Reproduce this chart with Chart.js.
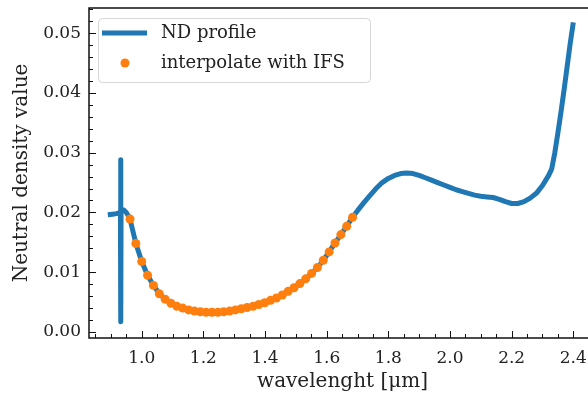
<!DOCTYPE html>
<html>
<head>
<meta charset="utf-8">
<script src="https://cdn.jsdelivr.net/npm/chart.js@4.4.0/dist/chart.umd.min.js"></script>
<style>
  html, body { margin: 0; padding: 0; background: #fff; overflow: hidden; }
  #wrap { width: 588px; height: 394px; overflow: hidden; }
</style>
</head>
<body>
<div id="wrap"><canvas id="ndChart" width="604" height="394"></canvas></div>
<script>
// --- profile data (wavelength in um, neutral density) ---
const ndWave = [
  0.890, 0.905, 0.918, 0.931, 0.932, 0.932, 0.933, 0.942, 0.950, 0.956,
  0.962, 0.981, 1.000, 1.019, 1.038, 1.057, 1.076, 1.095, 1.114, 1.133,
  1.152, 1.171, 1.190, 1.209, 1.228, 1.247, 1.266, 1.285, 1.304, 1.323,
  1.342, 1.361, 1.380, 1.399, 1.418, 1.437, 1.456, 1.475, 1.494, 1.513,
  1.532, 1.551, 1.570, 1.589, 1.608, 1.627, 1.646, 1.665, 1.684,
  1.700, 1.720, 1.740, 1.760, 1.780, 1.800, 1.820, 1.840, 1.860, 1.880,
  1.900, 1.920, 1.940, 1.960, 1.980, 2.000, 2.020, 2.040, 2.060, 2.080,
  2.100, 2.120, 2.140, 2.160, 2.180, 2.200, 2.220, 2.240, 2.260, 2.280,
  2.300, 2.320, 2.330, 2.340, 2.350, 2.360, 2.370, 2.380, 2.390, 2.400
];
const ndValue = [
  0.0196, 0.0197, 0.0198, 0.0200, 0.0288, 0.0017, 0.0203, 0.0204, 0.0200, 0.0195,
  0.0189, 0.0148, 0.0118, 0.0095, 0.0078, 0.0064, 0.0055, 0.0048, 0.0043, 0.0040,
  0.0037, 0.0035, 0.0034, 0.0033, 0.0033, 0.0033, 0.0034, 0.0035, 0.0037, 0.0039,
  0.0041, 0.0043, 0.0046, 0.0049, 0.0053, 0.0057, 0.0062, 0.0068, 0.0074, 0.0081,
  0.0089, 0.0098, 0.0108, 0.0120, 0.0134, 0.0149, 0.0163, 0.0177, 0.0192,
  0.0203, 0.0216, 0.0228, 0.0240, 0.0250, 0.0257, 0.0262, 0.0265, 0.0266, 0.0265,
  0.0262, 0.0258, 0.0254, 0.0250, 0.0246, 0.0242, 0.0238, 0.0235, 0.0232, 0.0229,
  0.0227, 0.0226, 0.0225, 0.0222, 0.0218, 0.0215, 0.0215, 0.0218, 0.0224, 0.0232,
  0.0245, 0.0262, 0.0273, 0.0300, 0.0333, 0.0368, 0.0405, 0.0444, 0.0483, 0.0518
];

// --- IFS sample points ---
const ifsWave = [
  0.962, 0.981, 1.000, 1.019, 1.038, 1.057, 1.076, 1.095, 1.114, 1.133,
  1.152, 1.171, 1.190, 1.209, 1.228, 1.247, 1.266, 1.285, 1.304, 1.323,
  1.342, 1.361, 1.380, 1.399, 1.418, 1.437, 1.456, 1.475, 1.494, 1.513,
  1.532, 1.551, 1.570, 1.589, 1.608, 1.627, 1.646, 1.665, 1.684
];
const ifsValue = [
  0.0189, 0.0148, 0.0118, 0.0095, 0.0078, 0.0064, 0.0055, 0.0048, 0.0043, 0.0040,
  0.0037, 0.0035, 0.0034, 0.0033, 0.0033, 0.0033, 0.0034, 0.0035, 0.0037, 0.0039,
  0.0041, 0.0043, 0.0046, 0.0049, 0.0053, 0.0057, 0.0062, 0.0068, 0.0074, 0.0081,
  0.0089, 0.0098, 0.0108, 0.0120, 0.0134, 0.0149, 0.0163, 0.0177, 0.0192
];

const xTicks = [1.0, 1.2, 1.4, 1.6, 1.8, 2.0, 2.2, 2.4];
const yTicks = [0.00, 0.01, 0.02, 0.03, 0.04, 0.05];

const BLUE = '#1f77b4';
const ORANGE = '#ff7f0e';
const SERIF = '"DejaVu Serif", "Liberation Serif", serif';

// no extra room for edge labels, the plot box is fixed by hand
function noEdgePadding(s) {
  s.paddingTop = 0;
  s.paddingBottom = 0;
  s.paddingLeft = 0;
  s.paddingRight = 0;
}

// frame + inward ticks (major and minor), like a matplotlib axes
const framePlugin = {
  id: 'frame',
  afterDraw(chart) {
    const { ctx, chartArea: a, scales } = chart;
    const xs = scales.x, ys = scales.y;
    ctx.save();
    ctx.strokeStyle = '#111';
    ctx.lineWidth = 1;
    ctx.beginPath();
    for (let v = 0.85; v < 2.47; v += 0.05) {
      const px = Math.round(xs.getPixelForValue(v)) + 0.5;
      const major = Math.abs(v * 5 - Math.round(v * 5)) < 1e-6;
      ctx.moveTo(px, a.bottom);
      ctx.lineTo(px, a.bottom - (major ? 7 : 4));
    }
    for (let i = 0; i <= 27; i++) {
      const v = i * 0.002;
      const py = Math.round(ys.getPixelForValue(v)) + 0.5;
      const major = i % 5 === 0;
      ctx.moveTo(a.left, py);
      ctx.lineTo(a.left + (major ? 7 : 4), py);
    }
    ctx.stroke();
    ctx.lineWidth = 1.5;
    ctx.strokeRect(a.left, a.top, a.right - a.left, a.bottom - a.top);
    ctx.restore();
  }
};

// legend box in the upper-left corner of the plot
const legendPlugin = {
  id: 'boxLegend',
  afterDatasetsDraw(chart) {
    const { ctx, chartArea: a } = chart;
    const x0 = a.left + 9, y0 = a.top + 10, w = 272, h = 64, r = 4;
    ctx.save();
    ctx.beginPath();
    ctx.roundRect(x0 + 0.5, y0 + 0.5, w, h, r);
    ctx.fillStyle = 'rgba(255,255,255,0.8)';
    ctx.fill();
    ctx.strokeStyle = '#d6d6d6';
    ctx.lineWidth = 1;
    ctx.stroke();

    ctx.strokeStyle = BLUE;
    ctx.lineWidth = 5;
    ctx.beginPath();
    ctx.moveTo(x0 + 4, y0 + 15);
    ctx.lineTo(x0 + 49, y0 + 15);
    ctx.stroke();

    ctx.fillStyle = ORANGE;
    ctx.beginPath();
    ctx.arc(x0 + 27, y0 + 45, 4.5, 0, Math.PI * 2);
    ctx.fill();

    ctx.fillStyle = '#222';
    ctx.font = '18px ' + SERIF;
    ctx.textBaseline = 'middle';
    ctx.fillText('ND profile', x0 + 63, y0 + 15);
    ctx.fillText('interpolate with IFS', x0 + 63, y0 + 45);
    ctx.restore();
  }
};

new Chart(document.getElementById('ndChart'), {
  type: 'line',
  data: {
    datasets: [
      {
        label: 'ND profile',
        data: ndWave.map((w, i) => ({ x: w, y: ndValue[i] })),
        borderColor: BLUE,
        borderWidth: 5,
        pointRadius: 0,
        tension: 0,
        fill: false,
        borderCapStyle: 'butt',
        borderJoinStyle: 'round',
        order: 1
      },
      {
        label: 'interpolate with IFS',
        data: ifsWave.map((w, i) => ({ x: w, y: ifsValue[i] })),
        showLine: false,
        pointRadius: 4.5,
        pointBorderWidth: 0,
        pointBackgroundColor: ORANGE,
        pointBorderColor: ORANGE,
        order: 0
      }
    ]
  },
  options: {
    responsive: false,
    animation: false,
    devicePixelRatio: 1,
    layout: { padding: { top: 8, right: 8, left: 0, bottom: 0 } },
    plugins: { legend: { display: false }, tooltip: { enabled: false } },
    scales: {
      x: {
        type: 'linear',
        min: 0.829,
        max: 2.4736,
        grid: { display: false, drawTicks: false },
        border: { display: false },
        afterBuildTicks: s => { s.ticks = xTicks.map(v => ({ value: v })); },
        afterFit: s => { s.height = 56; noEdgePadding(s); },
        ticks: {
          padding: 10,
          color: '#222',
          font: { family: SERIF, size: 17 },
          callback: v => v.toFixed(1)
        },
        title: {
          display: true,
          text: 'wavelenght [μm]',
          color: '#222',
          font: { family: SERIF, size: 20 },
          padding: { top: 0, bottom: 0 }
        }
      },
      y: {
        type: 'linear',
        min: -0.001,
        max: 0.0542,
        grid: { display: false, drawTicks: false },
        border: { display: false },
        afterBuildTicks: s => { s.ticks = yTicks.map(v => ({ value: v })); },
        afterFit: s => { s.width = 89; noEdgePadding(s); },
        ticks: {
          padding: 8,
          color: '#222',
          font: { family: SERIF, size: 17 },
          callback: v => v.toFixed(2)
        },
        title: {
          display: true,
          text: 'Neutral density value',
          color: '#222',
          font: { family: SERIF, size: 20 },
          padding: { top: 10, bottom: 0 }
        }
      }
    }
  },
  plugins: [framePlugin, legendPlugin]
});
</script>
</body>
</html>
